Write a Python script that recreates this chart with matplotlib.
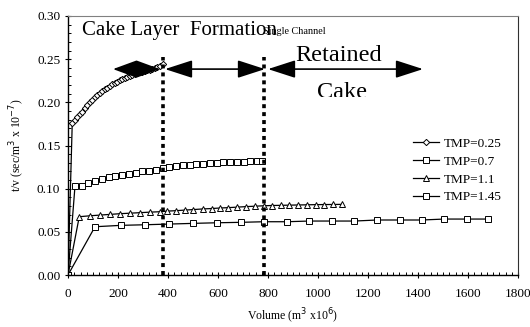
import matplotlib
matplotlib.use("Agg")
import matplotlib.pyplot as plt
from matplotlib.patches import Rectangle

plt.rcParams['font.family'] = ['Liberation Serif', 'DejaVu Serif']

# ---- data ----
x_025 = [0, 17, 27, 37, 47, 57, 67, 77, 87, 97, 107, 117, 127, 137, 147, 157, 167,
         177, 187, 197, 207, 217, 227, 237, 247, 257, 267, 277, 287, 297, 307, 317,
         327, 337, 347, 357, 367, 381]
y_025 = [0.0, 0.176, 0.179, 0.183, 0.186, 0.189, 0.193, 0.197, 0.200, 0.203, 0.206,
         0.2085, 0.211, 0.213, 0.215, 0.217, 0.219, 0.221, 0.2225, 0.224, 0.2255,
         0.227, 0.228, 0.2295, 0.231, 0.232, 0.233, 0.234, 0.235, 0.2355, 0.236,
         0.237, 0.238, 0.239, 0.240, 0.241, 0.242, 0.244]

x_07 = [0, 28, 55, 81, 108, 135, 162, 189, 216, 243, 270, 297, 324, 351, 378, 405,
        432, 459, 486, 513, 540, 567, 594, 621, 648, 675, 702, 729, 756, 775]
y_07 = [0.0, 0.103, 0.103, 0.107, 0.109, 0.111, 0.113, 0.115, 0.116, 0.117, 0.118,
        0.120, 0.121, 0.122, 0.124, 0.125, 0.126, 0.127, 0.127, 0.128, 0.129, 0.130,
        0.130, 0.131, 0.131, 0.131, 0.131, 0.132, 0.132, 0.132]

x_11 = [0, 45, 88, 128, 168, 208, 248, 288, 328, 368, 397, 432, 468, 501, 539, 575,
        608, 641, 675, 712, 748, 784, 815, 851, 885, 921, 955, 991, 1025, 1061, 1095]
y_11 = [0.0, 0.0675, 0.0686, 0.0694, 0.0702, 0.0710, 0.0716, 0.0722, 0.0728, 0.0733,
        0.0740, 0.0745, 0.0752, 0.0758, 0.0765, 0.0770, 0.0776, 0.0780, 0.0786,
        0.0792, 0.0797, 0.0802, 0.0805, 0.0807, 0.0809, 0.0811, 0.0813, 0.0815,
        0.0816, 0.0817, 0.0818]

x_145 = [0, 108, 211, 308, 405, 501, 595, 691, 784, 875, 965, 1055, 1145, 1237,
         1328, 1415, 1505, 1595, 1679]
y_145 = [0.0, 0.0559, 0.0575, 0.0582, 0.0590, 0.0598, 0.0605, 0.0610, 0.0617,
         0.0617, 0.0625, 0.0625, 0.0625, 0.0637, 0.0637, 0.0637, 0.0648, 0.0648,
         0.0648]

labels = ["TMP=0.25", "TMP=0.7", "TMP=1.1", "TMP=1.45"]
vlines_x = [380, 785]
xticks = list(range(0, 1801, 200))
yticks = [0.00, 0.05, 0.10, 0.15, 0.20, 0.25, 0.30]

# ---- figure ----
fig = plt.figure(figsize=(5.30, 3.27), dpi=100)
ax = fig.add_axes([68/530, 52/327, 450/530, 259/327])

mk = dict(color='black', lw=0.9, mfc='white', mec='black', mew=0.7)
ax.plot(x_025, y_025, marker='D', ms=3.2, label=labels[0], **mk)
ax.plot(x_07, y_07, marker='s', ms=4.0, label=labels[1], **mk)
ax.plot(x_11, y_11, marker='^', ms=4.2, label=labels[2], **mk)
ax.plot(x_145, y_145, marker='s', ms=4.0, label=labels[3], **mk)

for vx in vlines_x:
    ax.plot([vx, vx], [0, 0.252], color='black', lw=2.6,
            dashes=(1.1, 1.1), solid_capstyle='butt', zorder=5)

ax.set_xlim(0, 1800)
ax.set_ylim(0, 0.30)
ax.set_xticks(xticks)
ax.set_yticks(yticks)
ax.set_yticklabels([f"{v:.2f}" for v in yticks])
ax.set_xticks(range(0, 1801, 25), minor=True)
ax.set_yticks([i / 100 for i in range(0, 31)], minor=True)
ax.tick_params(axis='both', which='major', direction='inout', length=5,
               width=0.8, labelsize=9.5, pad=3)
ax.tick_params(axis='x', which='major', pad=7)
ax.tick_params(axis='both', which='minor', direction='in', length=2.5, width=0.7)
ax.spines['top'].set_color('#808080')
ax.spines['right'].set_color('#303030')
ax.spines['left'].set_linewidth(1.0)
ax.spines['bottom'].set_linewidth(1.0)

ax.set_xlabel("Volume (m$^3$ x10$^6$)", fontsize=8.5, labelpad=5)
ax.set_ylabel("t/v (sec/m$^3$ x 10$^{-7}$)", fontsize=8.5, labelpad=7)

# annotations
ax.text(0.03, 0.925, "Cake Layer  Formation", transform=ax.transAxes,
        fontsize=15, ha='left', va='baseline')
ax.text(0.433, 0.93, "Single Channel", transform=ax.transAxes,
        fontsize=7.3, ha='left', va='baseline')
ax.text(0.504, 0.825, "Retained", transform=ax.transAxes,
        fontsize=17.5, ha='left', va='baseline')
t = ax.text(0.553, 0.683, "Cake", transform=ax.transAxes,
            fontsize=17.5, ha='left', va='baseline')
t.set_clip_path(Rectangle((0, 0.688), 1, 0.31, transform=ax.transAxes))
t.set_clip_on(True)

arrow_y = 0.2385
for xa, xb, hl in [(180, 368, 1.5), (388, 788, 1.7), (800, 1420, 1.7)]:
    ax.annotate('', xy=(xb, arrow_y), xytext=(xa, arrow_y),
                arrowprops=dict(arrowstyle=f'<|-|>,head_length={hl},head_width=0.55',
                                color='black', lw=1.2, shrinkA=0, shrinkB=0,
                                mutation_scale=10), zorder=6)

leg = ax.legend(loc='upper left', bbox_to_anchor=(0.755, 0.55), frameon=False,
                fontsize=9.5, handlelength=2.0, handletextpad=0.3,
                labelspacing=0.42, borderaxespad=0)

fig.savefig("out.png", dpi=100)
